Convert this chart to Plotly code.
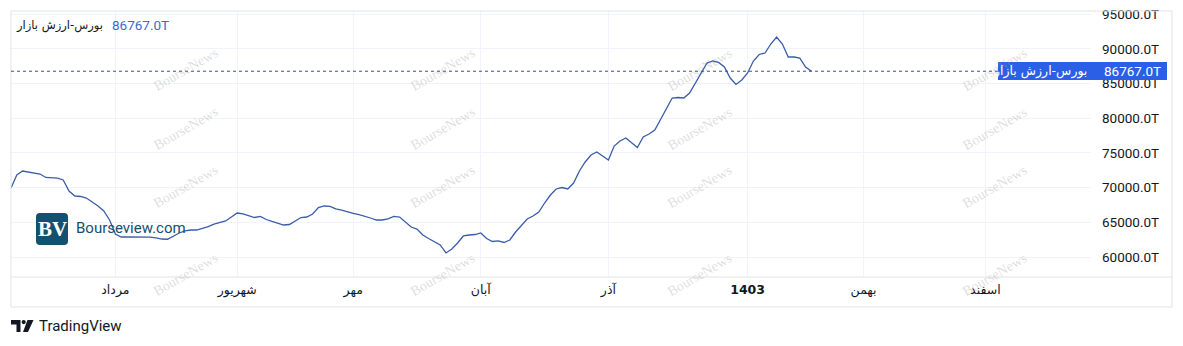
import plotly.graph_objects as go

# ---- data ----
values = [
    69940, 71820, 72390, 72250, 72100, 71960, 71460, 71380, 71380, 71100,
    69510, 68790, 68720, 68500, 67920, 67350, 66630, 65330, 63310, 62880,
    62880, 62880, 62880, 62850, 62850, 62740, 62590, 62560, 63030, 63460,
    63750, 63890, 63890, 64110, 64390, 64750, 64970, 65190, 65760, 66340,
    66200, 65980, 65690, 65840, 65400, 65120, 64900, 64610, 64680, 65190,
    65690, 65760, 66200, 67130, 67350, 67280, 66920, 66770, 66480, 66270,
    66120, 65910, 65620, 65330, 65330, 65480, 65840, 65760, 65040, 64320,
    64030, 63170, 62670, 62160, 61730, 60580, 61150, 62020, 63030, 63170,
    63240, 63460, 62670, 62230, 62310, 62090, 62450, 63600, 64610, 65480,
    65910, 66480, 67780, 68930, 69800, 70010, 69800, 70660, 72390, 73690,
    74700, 75130, 74550, 73980, 75990, 76710, 77150, 76430, 75780, 77290,
    77720, 78300, 79880, 81470, 82910, 82980, 82910, 83630, 85070, 86370,
    87950, 88240, 88030, 87380, 85790, 84860, 85500, 86510, 88240, 89180,
    89390, 90690, 91700, 90690, 88820, 88820, 88670, 87380, 86767,
]
bars = list(range(len(values)))

month_ticks = [18, 39, 59, 81, 103, 127, 147, 168]
month_labels = ["مرداد", "شهریور", "مهر", "آبان", "آذر", "<b>1403</b>", "بهمن", "اسفند"]

price_ticks = [60000, 65000, 70000, 75000, 80000, 85000, 90000, 95000]
price_labels = ["60000.0T", "65000.0T", "70000.0T", "75000.0T",
                "80000.0T", "85000.0T", "90000.0T", "95000.0T"]

series_name = "بورس-ارزش بازار"
last_value = 86767
last_label = "86767.0T"

# ---- layout geometry ----
FW, FH = 1183, 346
L, R, T, B = 11, 92, 11, 69
PW = FW - L - R
PH = FH - T - B


def px(x):
    return (x - L) / PW


def py(y):
    return (FH - B - y) / PH


LINE_COLOR = "#3a5ca8"
GRID = "#f0f3fa"
BORDER = "#e0e3eb"
TXT = "#131722"

fig = go.Figure()
fig.add_trace(go.Scatter(
    x=bars, y=values, mode="lines",
    line=dict(color=LINE_COLOR, width=1.3),
    hoverinfo="skip", showlegend=False,
))

shapes = []
# outer frame
shapes.append(dict(type="rect", xref="paper", yref="paper",
                   x0=px(11), x1=px(1172), y0=py(307), y1=py(11),
                   line=dict(color=BORDER, width=1), layer="above"))
# time-scale separator
shapes.append(dict(type="line", xref="paper", yref="paper",
                   x0=px(11), x1=px(1172), y0=py(277), y1=py(277),
                   line=dict(color=BORDER, width=1), layer="above"))
# last price dotted line
shapes.append(dict(type="line", xref="paper", yref="y",
                   x0=0, x1=1, y0=last_value, y1=last_value,
                   line=dict(color="#3a4f80", width=1, dash="dot"), layer="above"))
# last price label box
shapes.append(dict(type="rect", xref="paper", yref="paper",
                   x0=px(998), x1=px(1167), y0=py(80), y1=py(62),
                   fillcolor="#2b5fe6", line=dict(width=0), layer="above"))


def rounded_rect(x0, y0, x1, y1, r):
    pts = [
        f"M {px(x0 + r)},{py(y0)}",
        f"L {px(x1 - r)},{py(y0)}",
        f"Q {px(x1)},{py(y0)} {px(x1)},{py(y0 + r)}",
        f"L {px(x1)},{py(y1 - r)}",
        f"Q {px(x1)},{py(y1)} {px(x1 - r)},{py(y1)}",
        f"L {px(x0 + r)},{py(y1)}",
        f"Q {px(x0)},{py(y1)} {px(x0)},{py(y1 - r)}",
        f"L {px(x0)},{py(y0 + r)}",
        f"Q {px(x0)},{py(y0)} {px(x0 + r)},{py(y0)} Z",
    ]
    return " ".join(pts)


# Bourseview logo square
shapes.append(dict(type="path", xref="paper", yref="paper",
                   path=rounded_rect(36, 213, 68, 245, 4),
                   fillcolor="#14506f", line=dict(width=0), layer="above"))


def poly(points):
    s = "M " + " L ".join(f"{px(a)},{py(b)}" for a, b in points) + " Z"
    return s


# TradingView logo glyph
shapes.append(dict(type="path", xref="paper", yref="paper",
                   path=poly([(11, 320), (20.5, 320), (20.5, 332), (16.5, 332), (16.5, 324.5), (11, 324.5)]),
                   fillcolor=TXT, line=dict(width=0)))
shapes.append(dict(type="circle", xref="paper", yref="paper",
                   x0=px(21.6), x1=px(25.8), y0=py(324.2), y1=py(320),
                   fillcolor=TXT, line=dict(width=0)))
shapes.append(dict(type="path", xref="paper", yref="paper",
                   path=poly([(27.5, 320), (33.5, 320), (28, 332), (23, 332)]),
                   fillcolor=TXT, line=dict(width=0)))

annotations = []
# watermarks
for cx in (148, 443, 738, 1033):
    for cy in (42, 128, 214, 302):
        annotations.append(dict(
            x=px(cx), y=py(cy), xref="paper", yref="paper",
            text="BourseNews", showarrow=False, textangle=-30,
            font=dict(family="Liberation Serif", size=14, color="rgba(150,150,150,0.32)"),
        ))

# top-left legend
annotations.append(dict(x=px(105), y=py(25), xref="paper", yref="paper",
                        xanchor="right", yanchor="middle", showarrow=False,
                        text=series_name,
                        font=dict(family="DejaVu Sans", size=11.5, color=TXT)))
annotations.append(dict(x=px(110), y=py(25), xref="paper", yref="paper",
                        xanchor="left", yanchor="middle", showarrow=False,
                        text=last_label,
                        font=dict(family="Roboto", size=13.5, color="#3f6ac8")))
# box labels
annotations.append(dict(x=px(1040), y=py(71), xref="paper", yref="paper",
                        xanchor="center", yanchor="middle", showarrow=False,
                        text=series_name,
                        font=dict(family="DejaVu Sans", size=12.5, color="white")))
annotations.append(dict(x=px(1163), y=py(71), xref="paper", yref="paper",
                        xanchor="right", yanchor="middle", showarrow=False,
                        text=last_label,
                        font=dict(family="Roboto", size=13.5, color="white")))
# Bourseview logo text
annotations.append(dict(x=px(52), y=py(229), xref="paper", yref="paper",
                        xanchor="center", yanchor="middle", showarrow=False,
                        text="<b>BV</b>",
                        font=dict(family="Liberation Serif", size=21, color="white")))
annotations.append(dict(x=px(74), y=py(228), xref="paper", yref="paper",
                        xanchor="left", yanchor="middle", showarrow=False,
                        text="Bourseview.com",
                        font=dict(family="Roboto", size=15, color="#14506f")))
# TradingView text
annotations.append(dict(x=px(37), y=py(326), xref="paper", yref="paper",
                        xanchor="left", yanchor="middle", showarrow=False,
                        text="TradingView",
                        font=dict(family="Roboto", size=15, color=TXT)))

fig.update_layout(
    width=FW, height=FH,
    margin=dict(l=L, r=R, t=T, b=B, autoexpand=False),
    paper_bgcolor="white", plot_bgcolor="white",
    font=dict(family="Roboto, DejaVu Sans", color=TXT),
    shapes=shapes, annotations=annotations,
    xaxis=dict(
        range=[0, PW / 5.8], automargin=False,
        tickmode="array", tickvals=month_ticks, ticktext=month_labels,
        showgrid=True, gridcolor=GRID, gridwidth=1,
        zeroline=False, showline=False, ticks="",
        tickfont=dict(family="DejaVu Sans, Roboto", size=12.5, color=TXT),
        ticklabelstandoff=3, fixedrange=True,
    ),
    yaxis=dict(
        range=[57118, 95446], side="right", automargin=False,
        tickmode="array", tickvals=price_ticks, ticktext=price_labels,
        showgrid=True, gridcolor=GRID, gridwidth=1,
        zeroline=False, showline=False, ticks="",
        tickfont=dict(family="Roboto", size=13.5, color=TXT),
        ticklabelstandoff=10, fixedrange=True,
    ),
)

fig.write_html("out.html")
